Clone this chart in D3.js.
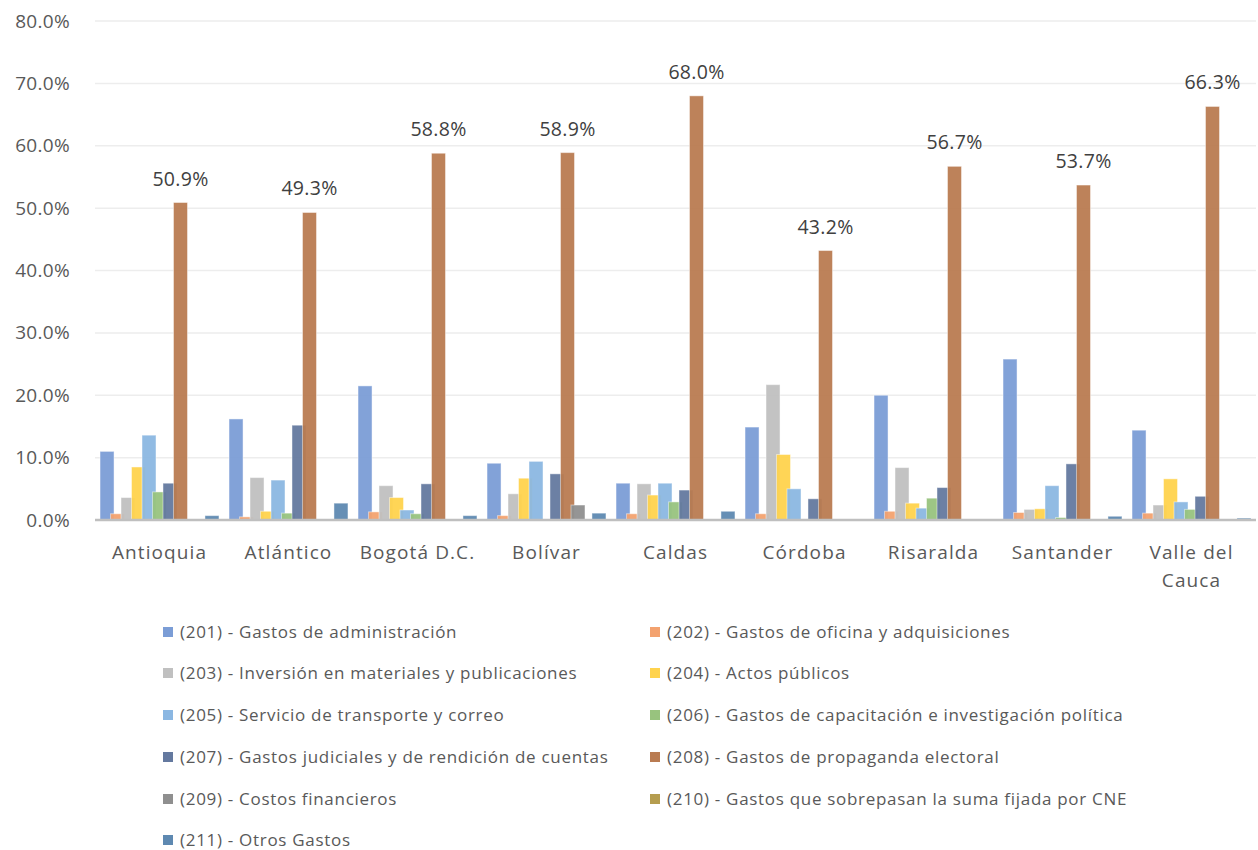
<!DOCTYPE html>
<html>
<head>
<meta charset="utf-8">
<script src="https://cdn.jsdelivr.net/npm/d3@7"></script>
<style>
  body { margin: 0; background: #fff; }
  svg text { font-family: "Open Sans", "Noto Sans", sans-serif; }
</style>
</head>
<body>
<div id="chart"></div>
<script>
const departamentos = ["Antioquia", "Atlántico", "Bogotá D.C.", "Bolívar", "Caldas", "Córdoba", "Risaralda", "Santander", "Valle del Cauca"];

const series = [
  "(201) - Gastos de administración",
  "(202) - Gastos de oficina y adquisiciones",
  "(203) - Inversión en materiales y publicaciones",
  "(204) - Actos públicos",
  "(205) - Servicio de transporte y correo",
  "(206) - Gastos de capacitación e investigación política",
  "(207) - Gastos judiciales y de rendición de cuentas",
  "(208) - Gastos de propaganda electoral",
  "(209) - Costos financieros",
  "(210) - Gastos que sobrepasan la suma fijada por CNE",
  "(211) - Otros Gastos"
];

const colores = ["#7b9dd6", "#f3a26f", "#c0c0c0", "#ffd34d", "#8bb7e2", "#98c37e", "#64799f", "#b97b51", "#8f8f8f", "#b59d4f", "#5e89b1"];

// valores en % por departamento (orden de series 201..211)
const g201 = [11.0, 16.2, 21.5, 9.1, 5.9, 14.9, 20.0, 25.8, 14.4];
const g202 = [1.0, 0.5, 1.3, 0.7, 1.0, 1.0, 1.4, 1.2, 1.1];
const g203 = [3.6, 6.8, 5.5, 4.2, 5.8, 21.7, 8.4, 1.7, 2.4];
const g204 = [8.5, 1.4, 3.6, 6.7, 4.0, 10.5, 2.7, 1.8, 6.6];
const g205 = [13.6, 6.4, 1.6, 9.4, 5.9, 5.0, 1.9, 5.5, 2.9];
const g206 = [4.5, 1.1, 1.0, 0.0, 2.9, 0.0, 3.5, 0.4, 1.7];
const g207 = [5.9, 15.2, 5.8, 7.4, 4.8, 3.4, 5.2, 9.0, 3.8];
const g208 = [50.9, 49.3, 58.8, 58.9, 68.0, 43.2, 56.7, 53.7, 66.3];
const g209 = [0.0, 0.0, 0.0, 2.4, 0.0, 0.0, 0.0, 0.0, 0.0];
const g210 = [0.0, 0.0, 0.0, 0.0, 0.0, 0.0, 0.0, 0.0, 0.0];
const g211 = [0.7, 2.7, 0.7, 1.1, 1.4, 0.0, 0.0, 0.6, 0.3];

const valores = [g201, g202, g203, g204, g205, g206, g207, g208, g209, g210, g211];
const yTicks = [0, 10, 20, 30, 40, 50, 60, 70, 80];

const width = 1258, height = 850;
const plot = { left: 95, right: 1256, top: 21, bottom: 520 };
const barW = 14;

const svg = d3.select("#chart").append("svg")
  .attr("width", width)
  .attr("height", height);

const x0 = d3.scaleBand()
  .domain(departamentos)
  .range([plot.left, plot.right])
  .paddingInner(0.078)
  .paddingOuter(0.039);

const x1 = d3.scaleLinear()
  .domain([0, series.length - 1])
  .range([0, x0.bandwidth() - barW]);

const y = d3.scaleLinear()
  .domain([0, 80])
  .range([plot.bottom, plot.top]);

// lineas de cuadricula
svg.append("g")
  .selectAll("line")
  .data(yTicks.filter(d => d > 0))
  .join("line")
  .attr("x1", plot.left)
  .attr("x2", plot.right)
  .attr("y1", d => y(d))
  .attr("y2", d => y(d))
  .attr("stroke", "#ededed")
  .attr("stroke-width", 1.5);

// eje Y
svg.append("g")
  .attr("transform", `translate(${plot.left},0)`)
  .call(d3.axisLeft(y).tickValues(yTicks).tickSize(0).tickPadding(25).tickFormat(d => d.toFixed(1) + "%"))
  .call(g => {
    g.select(".domain").remove();
    g.selectAll(".tick text")
      .attr("fill", "#595959")
      .style("font-size", "19px")
      .style("letter-spacing", "0.3px")
      .style("font-family", "'Open Sans', sans-serif");
  });

// barras
const grupos = svg.append("g")
  .selectAll("g")
  .data(series)
  .join("g")
  .attr("fill", (d, i) => colores[i]);

grupos.each(function (s, si) {
  d3.select(this).selectAll("rect")
    .data(valores[si].map((v, ci) => ({ v, cat: departamentos[ci] })))
    .join("rect")
    .attr("x", d => x0(d.cat) + x1(si))
    .attr("y", d => y(d.v))
    .attr("width", barW)
    .attr("height", d => plot.bottom - y(d.v))
    .attr("stroke", "#ffffff")
    .attr("stroke-opacity", 0.45)
    .attr("stroke-width", 1)
    .attr("fill-opacity", 0.95);
});

// etiquetas de la serie 208
const idx208 = 7;
svg.append("g")
  .selectAll("text")
  .data(g208.map((v, ci) => ({ v, cat: departamentos[ci] })))
  .join("text")
  .attr("x", d => x0(d.cat) + x1(idx208) + barW / 2)
  .attr("y", d => y(d.v) - 17)
  .attr("text-anchor", "middle")
  .attr("fill", "#404040")
  .style("font-size", "19.5px")
  .style("letter-spacing", "0.3px")
  .text(d => d.v.toFixed(1) + "%");

// eje X
svg.append("line")
  .attr("x1", plot.left)
  .attr("x2", plot.right)
  .attr("y1", plot.bottom)
  .attr("y2", plot.bottom)
  .attr("stroke", "#bfbfbf")
  .attr("stroke-width", 2.5);

const etiquetas = {
  "Valle del Cauca": ["Valle del", "Cauca"]
};

svg.append("g")
  .selectAll("text")
  .data(departamentos)
  .join("text")
  .attr("x", d => x0(d) + x0.bandwidth() / 2)
  .attr("y", 559)
  .attr("text-anchor", "middle")
  .attr("fill", "#595959")
  .style("font-size", "19px")
  .style("letter-spacing", "1.1px")
  .each(function (d) {
    const lines = etiquetas[d] || [d];
    d3.select(this).selectAll("tspan")
      .data(lines)
      .join("tspan")
      .attr("x", x0(d) + x0.bandwidth() / 2)
      .attr("dy", (l, i) => i === 0 ? 0 : 28)
      .text(l => l);
  });

// leyenda
const leyenda = svg.append("g");
const colX = [163, 650];
const rowY = [632, 673, 715, 757, 799, 840];

const item = leyenda.selectAll("g")
  .data(series)
  .join("g")
  .attr("transform", (d, i) => `translate(${colX[i % 2]},${rowY[Math.floor(i / 2)]})`);

item.append("rect")
  .attr("x", 0)
  .attr("y", -5)
  .attr("width", 10)
  .attr("height", 10)
  .attr("fill", (d, i) => colores[i]);

item.append("text")
  .attr("x", 17)
  .attr("dy", "0.35em")
  .attr("fill", "#595959")
  .style("font-size", "17px")
  .style("letter-spacing", "0.7px")
  .text(d => d);
</script>
</body>
</html>
